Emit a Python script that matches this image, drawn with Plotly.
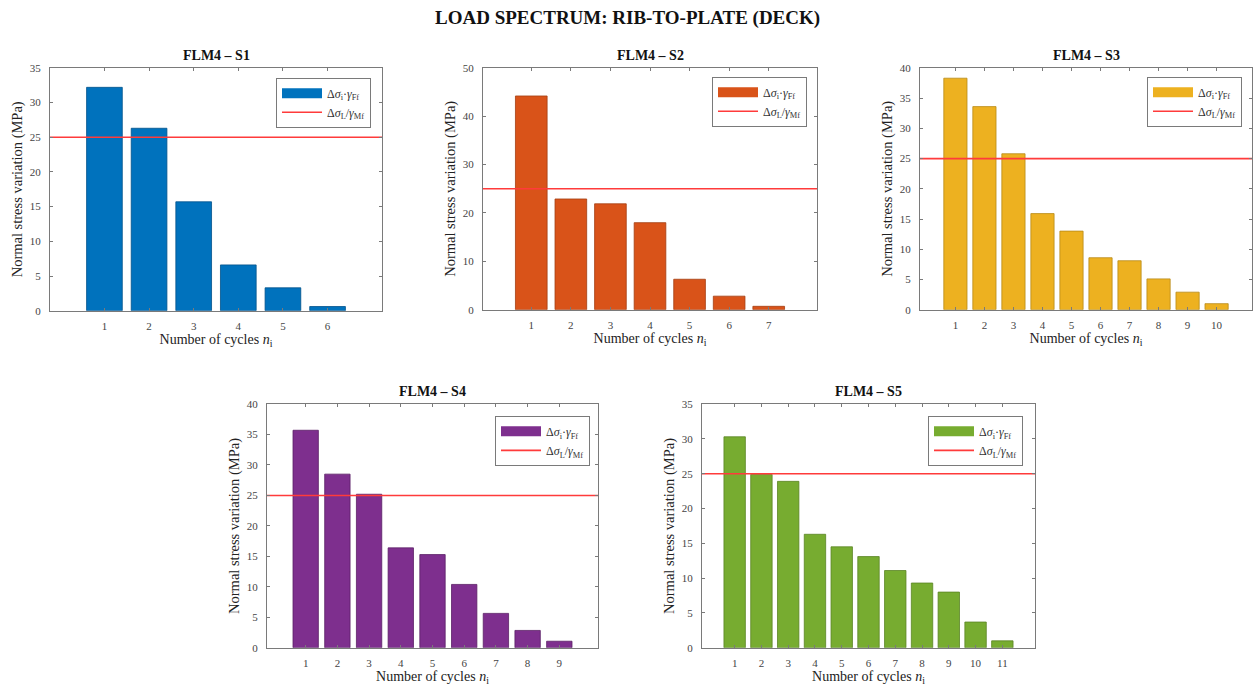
import plotly.graph_objects as go

W, H = 1255, 700

main_title = "LOAD SPECTRUM: RIB-TO-PLATE (DECK)"
panel_titles = ["FLM4 – S1", "FLM4 – S2", "FLM4 – S3", "FLM4 – S4", "FLM4 – S5"]

s1_values = [32.2, 26.3, 15.7, 6.6, 3.3, 0.6]
s2_values = [44.2, 22.9, 21.9, 18.0, 6.3, 2.8, 0.7]
s3_values = [38.3, 33.6, 25.8, 15.9, 13.0, 8.6, 8.1, 5.1, 2.9, 1.0]
s4_values = [35.7, 28.5, 25.2, 16.4, 15.3, 10.4, 5.65, 2.85, 1.08]
s5_values = [30.3, 24.9, 23.9, 16.3, 14.5, 13.1, 11.1, 9.3, 8.0, 3.7, 1.0]
series = [s1_values, s2_values, s3_values, s4_values, s5_values]

y_max = [35, 50, 40, 40, 35]
y_dtick = [5, 10, 5, 5, 5]
threshold = 25  # Δσ_L / γ_Mf

bar_colors = ["#0072BD", "#D95319", "#EDB120", "#7E2F8E", "#77AC30"]
edge_colors = ["#00528a", "#a33d12", "#b88a18", "#5a2066", "#5a8424"]
line_color = "#FF3B3B"

bar_label = "Δ<i>σ</i><sub>i</sub>·<i>γ</i><sub>Ff</sub>"
line_label = "Δ<i>σ</i><sub>L</sub>/<i>γ</i><sub>Mf</sub>"
x_title = "Number of cycles <i>n</i><sub>i</sub>"
y_title = "Normal stress variation (MPa)"

# panel boxes in pixels: (left, right, top, bottom)
boxes = [(50, 382, 63, 310), (483, 817, 63, 309), (920, 1252, 63, 309),
         (267, 598, 405, 653), (702, 1035, 405, 653)]
legend_corner = [(371, 73), (807, 72), (1242, 72), (590, 417), (1023, 417)]

FONT = "Liberation Serif"
fig = go.Figure()
pad = 1.22

for k, vals in enumerate(series):
    n = len(vals)
    xs = list(range(1, n + 1))
    ax = "" if k == 0 else str(k + 1)
    lg = "legend" if k == 0 else f"legend{k + 1}"
    fig.add_trace(go.Bar(
        x=xs, y=vals, width=0.8, name=bar_label,
        marker=dict(color=bar_colors[k], line=dict(color=edge_colors[k], width=0.8)),
        xaxis="x" + ax, yaxis="y" + ax, showlegend=False))
    # legend swatch for the bars (wide rectangle like the reference)
    fig.add_trace(go.Scatter(
        x=[None], y=[None], mode="lines", name=bar_label,
        line=dict(color=bar_colors[k], width=12),
        xaxis="x" + ax, yaxis="y" + ax, legend=lg, showlegend=True, hoverinfo="skip"))
    x0, x1 = 1 - pad, n + pad
    fig.add_trace(go.Scatter(
        x=[x0, x1], y=[threshold, threshold], mode="lines", name=line_label,
        line=dict(color=line_color, width=1.6),
        xaxis="x" + ax, yaxis="y" + ax, legend=lg, showlegend=True))

    l, r, t, b = boxes[k]
    axis_common = dict(showline=True, linecolor="#7a7a7a", linewidth=1, mirror="ticks",
                       ticks="inside", ticklen=3, tickcolor="#7a7a7a", showgrid=False,
                       zeroline=False, tickfont=dict(family=FONT, size=11, color="#444"))
    fig.layout["xaxis" + ax] = dict(
        domain=[l / W, r / W], anchor="y" + ax, range=[x0, x1],
        tickmode="array", tickvals=xs, ticktext=[str(v) for v in xs],
        ticklabelstandoff=5,
        title=dict(text=x_title, font=dict(family=FONT, size=14, color="#222"), standoff=2),
        **axis_common)
    fig.layout["yaxis" + ax] = dict(
        domain=[1 - b / H, 1 - t / H], anchor="x" + ax, range=[0, y_max[k]],
        dtick=y_dtick[k], tick0=0, ticklabelstandoff=6,
        title=dict(text=y_title, font=dict(family=FONT, size=14.5, color="#222"), standoff=3),
        **axis_common)
    lx, ly = legend_corner[k]
    fig.layout[lg] = dict(
        x=lx / W, y=1 - ly / H, xanchor="right", yanchor="top", xref="paper", yref="paper",
        bgcolor="white", bordercolor="#7a7a7a", borderwidth=1,
        font=dict(family=FONT, size=12, color="#333"), itemwidth=40,
        tracegroupgap=0, traceorder="normal")
    fig.add_annotation(
        text=f"<b>{panel_titles[k]}</b>", x=(l + r) / 2 / W, y=1 - (t - 3) / H,
        xref="paper", yref="paper", xanchor="center", yanchor="bottom", showarrow=False,
        font=dict(family=FONT, size=14, color="#111"))

fig.add_annotation(text=f"<b>{main_title}</b>", x=0.5, y=1 - 12 / H, xref="paper", yref="paper",
                   xanchor="center", yanchor="middle", showarrow=False,
                   font=dict(family=FONT, size=19, color="#111"))

fig.update_layout(width=W, height=H, margin=dict(l=0, r=0, t=0, b=0),
                  paper_bgcolor="white", plot_bgcolor="white", bargap=0.2)
fig.write_html("out.html", config={"displayModeBar": False},
               post_script="document.body.style.margin='0';document.body.style.overflow='hidden';")
